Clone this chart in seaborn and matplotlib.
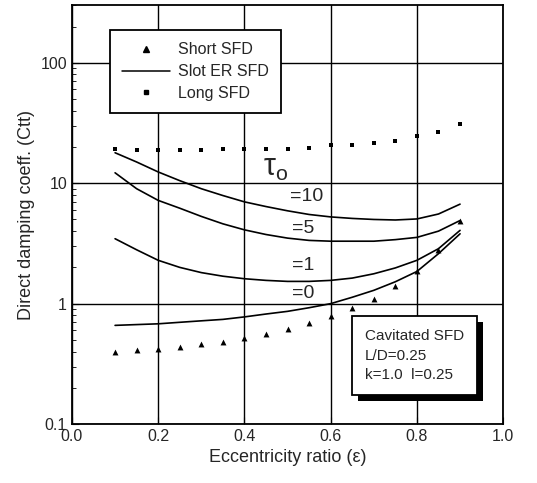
import pandas as pd
import matplotlib
matplotlib.use('Agg')
import matplotlib.pyplot as plt
import matplotlib.patheffects as pe
from matplotlib.lines import Line2D
import seaborn as sns

sns.set_style("ticks")
plt.rcParams['font.family'] = ['Liberation Sans', 'DejaVu Sans']
plt.rcParams['mathtext.fontset'] = 'custom'
plt.rcParams['mathtext.rm'] = 'Liberation Sans'
plt.rcParams['mathtext.it'] = 'Liberation Sans'

# Données
eps = [0.10, 0.15, 0.20, 0.25, 0.30, 0.35, 0.40, 0.45, 0.50,
       0.55, 0.60, 0.65, 0.70, 0.75, 0.80, 0.85, 0.90]
short_sfd = [0.40, 0.41, 0.42, 0.44, 0.46, 0.48, 0.52, 0.56, 0.62,
             0.69, 0.79, 0.92, 1.09, 1.39, 1.85, 2.77, 4.9]
long_sfd = [19.1, 19.0, 19.0, 19.0, 19.0, 19.1, 19.1, 19.2, 19.3,
            19.5, 20.6, 20.9, 21.7, 22.3, 24.5, 26.5, 31.0]
tau10 = [17.9, 15.0, 12.4, 10.5, 9.0, 7.9, 7.0, 6.4, 5.9,
         5.5, 5.25, 5.1, 5.0, 4.95, 5.05, 5.55, 6.7]
tau5 = [12.2, 9.0, 7.2, 6.2, 5.3, 4.6, 4.1, 3.75, 3.5,
        3.35, 3.3, 3.3, 3.3, 3.4, 3.55, 4.0, 4.9]
tau1 = [3.46, 2.8, 2.29, 2.0, 1.81, 1.69, 1.61, 1.56, 1.53,
        1.53, 1.56, 1.63, 1.77, 1.98, 2.29, 2.86, 4.06]
tau0 = [0.66, 0.67, 0.68, 0.70, 0.72, 0.74, 0.776, 0.82, 0.863,
        0.925, 1.0, 1.13, 1.29, 1.52, 1.85, 2.6, 3.8]
tau_labels = ['=10', '=5', '=1', '=0']

curves = pd.DataFrame({
    'eps': eps * 4,
    'Ctt': tau10 + tau5 + tau1 + tau0,
    'tau': sum([[t] * len(eps) for t in tau_labels], []),
})

fig = plt.figure(figsize=(5.37, 4.83), dpi=100)
ax = fig.add_axes([0.134, 0.122, 0.803, 0.867])

sns.lineplot(data=curves, x='eps', y='Ctt', hue='tau', palette=['black'] * 4,
             linewidth=1.2, legend=False, ax=ax)
sns.scatterplot(x=eps, y=short_sfd, marker='^', color='black', s=18,
                linewidth=0, ax=ax)
sns.scatterplot(x=eps, y=long_sfd, marker='s', color='black', s=12,
                linewidth=0, ax=ax)

ax.set_yscale('log')
ax.set_xlim(0.0, 1.0)
ax.set_ylim(0.1, 300)
ax.set_xticks([0.0, 0.2, 0.4, 0.6, 0.8, 1.0])
ax.set_xticklabels(['0.0', '0.2', '0.4', '0.6', '0.8', '1.0'])
ax.set_yticks([0.1, 1, 10, 100])
ax.set_yticklabels(['0.1', '1', '10', '100'])
ax.grid(True, which='major', color='black', linewidth=1.0)
ax.tick_params(which='both', direction='in', labelsize=11.5, color='black')
ax.tick_params(which='major', length=5)
ax.tick_params(which='minor', length=3)
for s in ax.spines.values():
    s.set_color('black')
    s.set_linewidth(1.3)

ax.set_xlabel('Eccentricity ratio (\u03b5)', fontsize=13)
ax.set_ylabel('Direct damping coeff. (Ctt)', fontsize=13)

# Annotations tau
ax.text(0.443, 13.5, r'$\tau_{\rm o}$', fontsize=22, ha='left', va='center')
ax.text(0.505, 7.8, '=10', fontsize=14, ha='left', va='center')
ax.text(0.51, 4.2, '=5', fontsize=14, ha='left', va='center')
ax.text(0.51, 2.08, '=1', fontsize=14, ha='left', va='center')
ax.text(0.51, 1.22, '=0', fontsize=14, ha='left', va='center')

handles = [
    Line2D([], [], marker='^', color='black', linestyle='none', markersize=4),
    Line2D([], [], color='black', linewidth=1.1),
    Line2D([], [], marker='s', color='black', linestyle='none', markersize=3.5),
]
leg = ax.legend(handles, ['Short SFD', 'Slot ER SFD', 'Long SFD'],
                loc='upper left', bbox_to_anchor=(0.088, 0.94),
                borderaxespad=0, fancybox=False, edgecolor='black',
                framealpha=1, fontsize=11.5, handlelength=3.0,
                borderpad=0.75, labelspacing=0.42, handletextpad=0.5)
leg.get_frame().set_linewidth(1.3)

t = ax.text(0.68, 0.37, 'Cavitated SFD\nL/D=0.25\nk=1.0  l=0.25',
            fontsize=11, ha='left', va='center', linespacing=1.5,
            bbox=dict(boxstyle='square,pad=0.85', facecolor='white',
                      edgecolor='black', linewidth=1.3))
t.get_bbox_patch().set_path_effects([
    pe.SimplePatchShadow(offset=(4, -4), shadow_rgbFace='black', alpha=1),
    pe.Normal()])

plt.savefig('out.png', dpi=100)
